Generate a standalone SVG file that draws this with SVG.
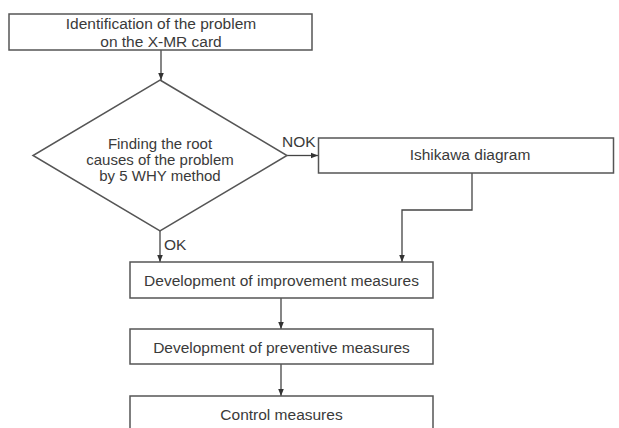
<svg xmlns="http://www.w3.org/2000/svg" width="619" height="428" viewBox="0 0 619 428">
<defs>
<marker id="arr" viewBox="0 0 10 10" refX="10" refY="5" markerWidth="7" markerHeight="7" markerUnits="userSpaceOnUse" orient="auto">
<path d="M0,1 L10,5 L0,9 z" fill="#333"/>
</marker>
</defs>
<style>
.box{fill:#fff;stroke:#555;stroke-width:1.5}
.t{font-family:"Liberation Sans",Arial,sans-serif;font-size:15.5px;fill:#3a3a3a;text-anchor:middle}
.d{font-family:"Liberation Sans",Arial,sans-serif;font-size:15px;fill:#3a3a3a;text-anchor:middle}
.l{font-family:"Liberation Sans",Arial,sans-serif;font-size:15.5px;fill:#3a3a3a}
.c{fill:none;stroke:#444;stroke-width:1.3}
</style>
<rect width="619" height="428" fill="#fff"/>
<g id="connectors">
<line class="c" x1="161" y1="50" x2="161" y2="80" marker-end="url(#arr)"/>
<line class="c" x1="287" y1="155.5" x2="318" y2="155.5" marker-end="url(#arr)"/>
<text class="l" x="282" y="147">NOK</text>
<line class="c" x1="160" y1="231" x2="160" y2="262" marker-end="url(#arr)"/>
<text class="l" x="164" y="250">OK</text>
<polyline class="c" points="472,173 472,210 402,210 402,262" marker-end="url(#arr)"/>
<line class="c" x1="281" y1="298" x2="281" y2="329" marker-end="url(#arr)"/>
<line class="c" x1="281" y1="364" x2="281" y2="396" marker-end="url(#arr)"/>
</g>
<g id="identification">
<rect class="box" x="9" y="14" width="303" height="36"/>
<text class="t" x="161" y="29">Identification of the problem</text>
<text class="t" x="161" y="47">on the X-MR card</text>
</g>
<g id="why5">
<polygon class="box" points="160,80 287,155.5 160,231 33,155.5"/>
<text class="d" x="160" y="149">Finding the root</text>
<text class="d" x="160" y="165">causes of the problem</text>
<text class="d" x="160" y="181">by 5 WHY method</text>
</g>
<g id="ishikawa">
<rect class="box" x="318.5" y="138" width="295" height="35"/>
<text class="t" x="470" y="160">Ishikawa diagram</text>
</g>
<g id="improvement">
<rect class="box" x="130" y="262" width="303" height="36"/>
<text class="t" x="281.5" y="285.5">Development of improvement measures</text>
</g>
<g id="preventive">
<rect class="box" x="130" y="329" width="303" height="35"/>
<text class="t" x="281.5" y="352.5">Development of preventive measures</text>
</g>
<g id="control">
<rect class="box" x="130" y="396" width="303" height="40"/>
<text class="t" x="281.5" y="419.5">Control measures</text>
</g>
</svg>
